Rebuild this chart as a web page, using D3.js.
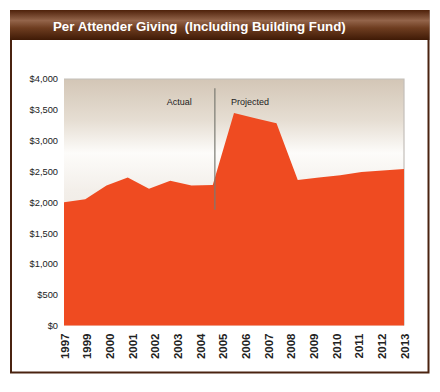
<!DOCTYPE html>
<html>
<head>
<meta charset="utf-8">
<script src="https://cdn.jsdelivr.net/npm/d3@7"></script>
<style>
  body { margin: 0; background: #fff; }
  svg { display: block; font-family: 'Liberation Sans', Arial, sans-serif; }
</style>
</head>
<body>
<svg id="chart" width="440" height="392"></svg>
<script>
// data points, one per year (1997..2013)
const years = ['1997', '1998', '1999', '2000', '2001', '2002', '2003', '2004', '2005',
  '2006', '2007', '2008', '2009', '2010', '2011', '2012', '2013']
const giving = [2000, 2050, 2270, 2400, 2220, 2350, 2270, 2280, 3450,
  3365, 3280, 2360, 2400, 2440, 2490, 2515, 2540]
// axis labels as printed (no 1998)
const tickLabels = ['1997', '1999', '2000', '2001', '2002', '2003', '2004', '2005',
  '2006', '2007', '2008', '2009', '2010', '2011', '2012', '2013']
const yTicks = [0, 500, 1000, 1500, 2000, 2500, 3000, 3500, 4000]
const title = 'Per Attender Giving\u00a0\u00a0(Including Building Fund)'
const divider = { at: 7.1, left: 'Actual', right: 'Projected' }

const plot = { left: 64, right: 404, top: 79, bottom: 325.5 }
const svg = d3.select('#chart')

const defs = svg.append('defs')
const barGrad = defs.append('linearGradient')
  .attr('id', 'bar').attr('x1', 0).attr('x2', 0).attr('y1', 0).attr('y2', 1)
barGrad.selectAll('stop')
  .data([['0%', '#4e210a'], ['35%', '#93644a'], ['60%', '#6e3d20'], ['100%', '#3f1a06']])
  .enter().append('stop')
  .attr('offset', d => d[0]).attr('stop-color', d => d[1])

const bgGrad = defs.append('linearGradient')
  .attr('id', 'bg').attr('x1', 0).attr('x2', 0).attr('y1', 0).attr('y2', 1)
bgGrad.selectAll('stop')
  .data([['0%', '#d3c6b6'], ['17%', '#e6ded3'], ['30%', '#fdfcfa'], ['45%', '#f3efea'], ['100%', '#e2dad0']])
  .enter().append('stop')
  .attr('offset', d => d[0]).attr('stop-color', d => d[1])

// frame
svg.append('rect')
  .attr('x', 11).attr('y', 11).attr('width', 417.5).attr('height', 361.5)
  .attr('fill', '#fff').attr('stroke', '#4a2310').attr('stroke-width', 2)
svg.append('rect')
  .attr('x', 10).attr('y', 10).attr('width', 419.5).attr('height', 30)
  .attr('fill', 'url(#bar)')
svg.append('text')
  .attr('x', 53).attr('y', 31)
  .attr('fill', '#fff').attr('font-weight', 'bold').attr('font-size', 13.3)
  .text(title)

const x = d3.scalePoint().domain(years).range([plot.left, plot.right])
const xl = d3.scalePoint().domain(tickLabels).range([plot.left, plot.right])
const y = d3.scaleLinear().domain([0, 4000]).range([plot.bottom, plot.top])

// plot background
svg.append('rect')
  .attr('x', plot.left).attr('y', plot.top)
  .attr('width', plot.right - plot.left).attr('height', plot.bottom - plot.top)
  .attr('fill', 'url(#bg)')
svg.append('path')
  .attr('d', `M${plot.left},${plot.top}H${plot.right}V${plot.bottom}`)
  .attr('fill', 'none').attr('stroke', '#c4bfba').attr('stroke-width', 1.2)

const area = d3.area()
  .x((d, i) => x(years[i]))
  .y0(y(0))
  .y1(d => y(d))
svg.append('path')
  .datum(giving)
  .attr('d', area)
  .attr('fill', '#ef4b21')

// actual / projected divider
const step = x.step()
const dx = plot.left + divider.at * step
svg.append('line')
  .attr('x1', dx).attr('x2', dx)
  .attr('y1', y(3850)).attr('y2', y(1880))
  .attr('stroke', '#7a7a72').attr('stroke-width', 1.2)
svg.append('text')
  .attr('x', dx - 23).attr('y', 105)
  .attr('text-anchor', 'end').attr('font-size', 9).attr('fill', '#222')
  .text(divider.left)
svg.append('text')
  .attr('x', dx + 16).attr('y', 105)
  .attr('font-size', 9).attr('fill', '#222')
  .text(divider.right)

// y axis
const yAxis = svg.append('g')
  .attr('transform', `translate(${plot.left - 6},0)`)
  .call(d3.axisLeft(y).tickValues(yTicks).tickSize(0).tickPadding(0)
    .tickFormat(d => '$' + d3.format(',')(d)))
yAxis.select('.domain').remove()
yAxis.selectAll('text')
  .attr('font-size', 9.3).attr('fill', '#222')
  .attr('font-family', "'Liberation Sans', Arial, sans-serif")

// x axis
const xAxis = svg.append('g')
  .attr('transform', `translate(0,${plot.bottom})`)
  .call(d3.axisBottom(xl).tickSize(0).tickPadding(0))
xAxis.select('.domain').remove()
xAxis.selectAll('text')
  .attr('transform', 'rotate(-90)')
  .attr('text-anchor', 'end')
  .attr('x', -8).attr('y', 0).attr('dy', '0.35em')
  .attr('font-size', 11.5).attr('font-weight', 'bold').attr('fill', '#222')
  .attr('font-family', "'Liberation Sans', Arial, sans-serif")
</script>
</body>
</html>
